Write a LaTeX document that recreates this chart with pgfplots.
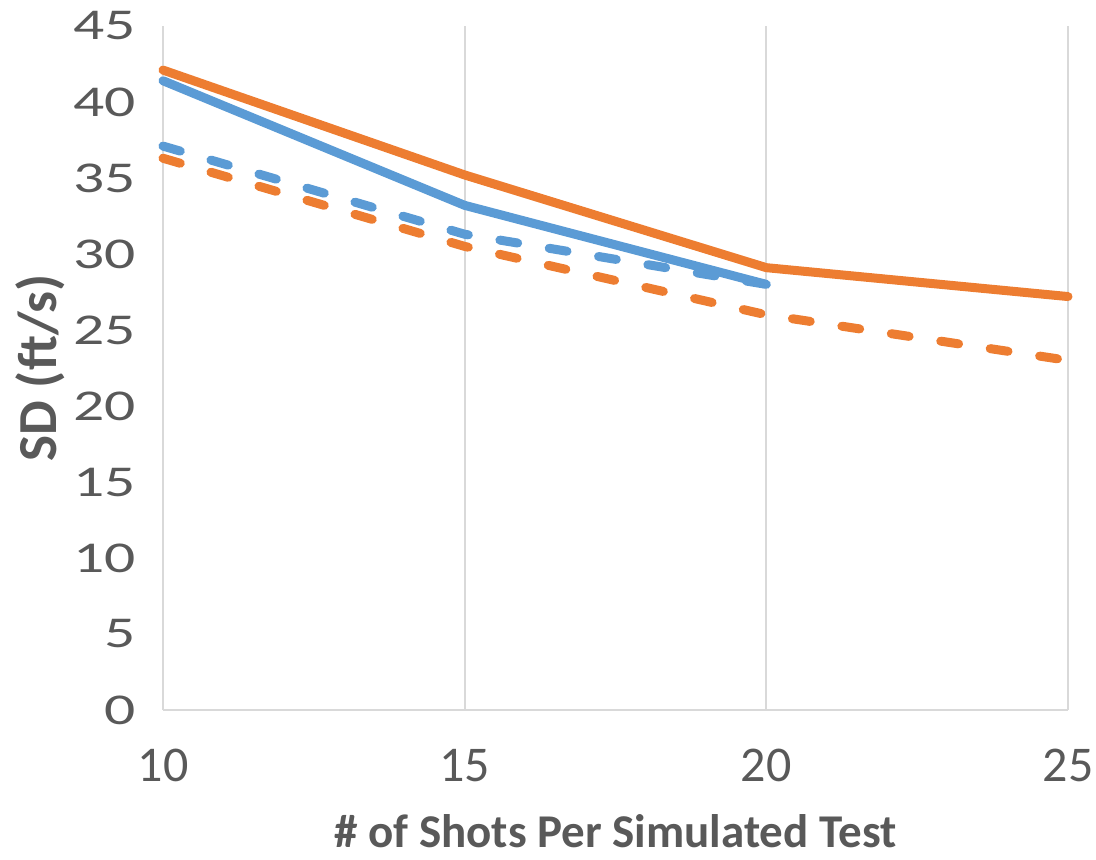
\documentclass[border=0pt]{standalone}
\usepackage{pgfplots}
\pgfplotsset{compat=1.18}
\usepackage{fontspec}
\setmainfont{Carlito}
\usetikzlibrary{calc}
\definecolor{xorange}{HTML}{ED7D31}
\definecolor{xblue}{HTML}{5B9BD5}
\definecolor{xgrid}{HTML}{D9D9D9}
\definecolor{xtext}{HTML}{595959}
\begin{document}
\begin{tikzpicture}
\begin{axis}[
  name=ax,
  scale only axis,
  width=905pt, height=684pt,
  xmin=10, xmax=25, ymin=0, ymax=45,
  xtick={10,15,20,25}, ytick={0,5,...,45},
  axis x line=bottom, axis y line=left,
  axis line style={xgrid, line width=2pt, -},
  xmajorgrids, major grid style={xgrid, line width=2pt},
  major tick length=0pt,
  tick label style={text=xtext},
  /pgf/number format/assume math mode=true,
  xticklabel style={font=\fontsize{50}{54}\selectfont, yshift=-36pt},
  yticklabel style={font=\fontsize{44}{48}\selectfont, xscale=1.4, xshift=-16pt},
  xlabel={\bfseries \# of Shots Per Simulated Test},
  ylabel={\bfseries SD (ft/s)},
  xlabel style={font=\fontsize{47}{50}\selectfont, text=xtext, at={(axis description cs:0.5,-0.177)}, anchor=center},
  ylabel style={font=\fontsize{55}{60}\selectfont, text=xtext, at={(axis description cs:-0.136,0.5)}, anchor=center, rotate=0},
  every axis plot/.append style={line width=9pt, line join=round},
  clip=false,
]
\addplot[xorange, line cap=round] coordinates {(10,42.1) (15,35.2) (20,29.1) (25,27.2)};
\addplot[xblue, line cap=round] coordinates {(10,41.4) (15,33.2) (20,28.0)};
\addplot[xblue, line cap=round, dash pattern=on 18pt off 32pt] coordinates {(10,37.1) (15,31.3) (20,28.0)};
\addplot[xorange, line cap=round, dash pattern=on 18pt off 32pt] coordinates {(10,36.3) (15,30.5) (20,26.0) (25,23.0)};
\end{axis}
\pgfresetboundingbox
\path[use as bounding box] ($(ax.south west)+(-163pt,-150pt)$) rectangle ($(ax.north east)+(28pt,26pt)$);
\end{tikzpicture}
\end{document}
